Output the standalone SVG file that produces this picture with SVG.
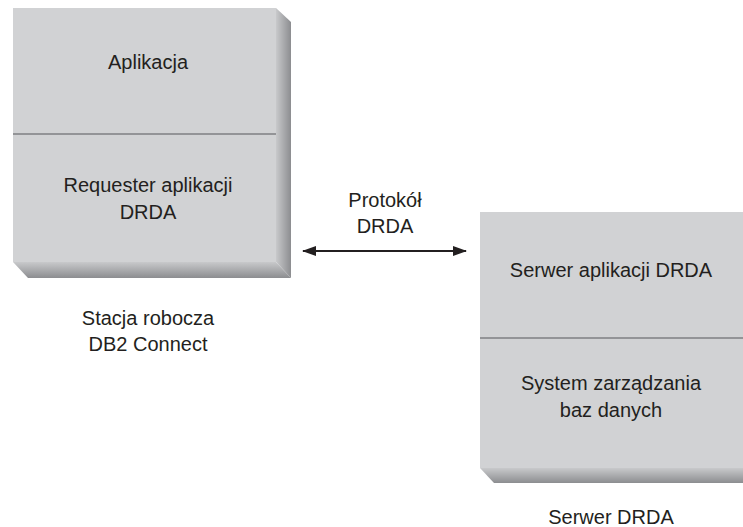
<svg xmlns="http://www.w3.org/2000/svg" width="743" height="527" viewBox="0 0 743 527">
<defs>
<linearGradient id="gR" x1="0" y1="0" x2="1" y2="0"><stop offset="0" stop-color="#c8c9cb"/><stop offset="1" stop-color="#8c8d90"/></linearGradient>
<linearGradient id="gB" x1="0" y1="0" x2="0" y2="1"><stop offset="0" stop-color="#c8c9cb"/><stop offset="1" stop-color="#8c8d90"/></linearGradient>
<marker id="ah" viewBox="0 0 14 10" refX="13" refY="5" markerWidth="14" markerHeight="10" markerUnits="userSpaceOnUse" orient="auto-start-reverse"><path d="M0,0 L14,5 L0,10 Z" fill="#231f20"/></marker>
</defs>
<style>
.face{fill:#d1d2d4}
.div{stroke:#939497;stroke-width:2}
text{font-family:"Liberation Sans",Arial,sans-serif;font-size:20px;fill:#231f20;text-anchor:middle}
</style>
<rect width="743" height="527" fill="#ffffff"/>
<g id="stacja">
<polygon points="276,8 291,22 291,278 276,262" fill="url(#gR)"/>
<polygon points="13,262 276,262 291,278 28,278" fill="url(#gB)"/>
<rect class="face" x="13" y="8" width="263" height="254"/>
<line class="div" x1="13" y1="134" x2="276" y2="134"/>
<text x="148" y="69">Aplikacja</text>
<text x="148" y="192">Requester aplikacji</text>
<text x="148" y="219">DRDA</text>
<text x="148" y="325">Stacja robocza</text>
<text x="148" y="351">DB2 Connect</text>
</g>
<g id="serwer">
<polygon points="480,468 760,468 760,483 494,483" fill="url(#gB)"/>
<rect class="face" x="480" y="212" width="280" height="256"/>
<line class="div" x1="480" y1="338" x2="743" y2="338"/>
<text x="611" y="277">Serwer aplikacji DRDA</text>
<text x="611" y="390">System zarządzania</text>
<text x="611" y="417">baz danych</text>
<text x="611" y="524">Serwer DRDA</text>
</g>
<g id="connectors">
<line x1="303" y1="251" x2="466" y2="251" stroke="#231f20" stroke-width="2" marker-start="url(#ah)" marker-end="url(#ah)"/>
<text x="385" y="207">Protokół</text>
<text x="385" y="233">DRDA</text>
</g>
</svg>
